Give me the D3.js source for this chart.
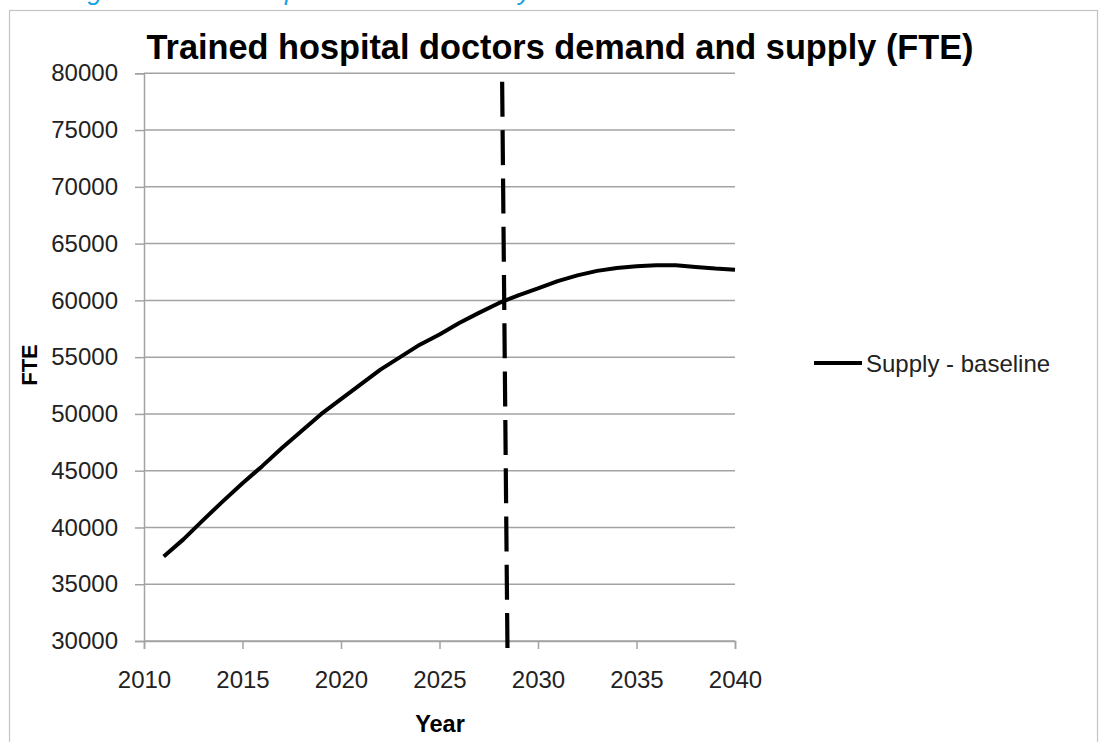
<!DOCTYPE html>
<html>
<head>
<meta charset="utf-8">
<script src="https://cdn.jsdelivr.net/npm/d3@7"></script>
<style>
  html, body { margin: 0; padding: 0; background: #fff; }
  svg { display: block; font-family: "Liberation Sans", Arial, sans-serif; }
</style>
</head>
<body>
<svg id="chart" width="1099" height="742"></svg>
<script>
// ---- data ----
const chartTitle = "Trained hospital doctors demand and supply (FTE)";
const xAxisTitle = "Year";
const yAxisTitle = "FTE";
const seriesName = "Supply - baseline";
const years = [2011, 2012, 2013, 2014, 2015, 2016, 2017, 2018, 2019, 2020,
               2021, 2022, 2023, 2024, 2025, 2026, 2027, 2028, 2029, 2030,
               2031, 2032, 2033, 2034, 2035, 2036, 2037, 2038, 2039, 2040];
const supply = [37450, 38950, 40650, 42300, 43900, 45400, 47000, 48500, 50000, 51300,
                52600, 53900, 55000, 56100, 57000, 58000, 58900, 59750, 60450, 61050,
                61700, 62200, 62600, 62850, 63000, 63100, 63100, 62950, 62800, 62700];
const xTicks = [2010, 2015, 2020, 2025, 2030, 2035, 2040];
const yTicks = [30000, 35000, 40000, 45000, 50000, 55000, 60000, 65000, 70000, 75000, 80000];
// projection divider (slightly slanted dashed line in the source)
const dividerYears = [2028.18, 2028.45];
const dividerValues = [79250, 29300];
// caption fragments (cut off at the top edge in the source)
const captionParts = ["Figure 5 Trained", "hospital doctors", "by"];

// ---- layout ----
const svg = d3.select("#chart");
const pLeft = 144, pRight = 735, pTop = 73.3, pBottom = 641;
const x = d3.scaleLinear().domain([2010, 2040]).range([pLeft, pRight]);
const y = d3.scaleLinear().domain([30000, 80000]).range([pBottom, pTop]);
const grid = "#a3a3a3";
const font = "24px";

// cut-off blue caption above the frame
const capX = [66, 243, 504];
const cap = svg.append("text").attr("y", 0)
  .attr("font-size", "26px").attr("font-style", "italic").attr("fill", "#12a3e3");
cap.selectAll("tspan").data(captionParts).join("tspan")
  .attr("x", (d, i) => capX[i]).text(d => d);

// frame
svg.append("rect").attr("x", 9.5).attr("y", 10.5).attr("width", 1088).attr("height", 800)
  .attr("fill", "none").attr("stroke", "#c4c4c4").attr("stroke-width", 1.2);

// gridlines
svg.append("g").selectAll("line").data(yTicks).join("line")
  .attr("x1", pLeft).attr("x2", pRight)
  .attr("y1", d => y(d)).attr("y2", d => y(d))
  .attr("stroke", grid).attr("stroke-width", 1.5);

// y axis
const yAxis = svg.append("g").attr("transform", `translate(${pLeft},0)`)
  .call(d3.axisLeft(y).tickValues(yTicks).tickFormat(d3.format("d")).tickSize(9).tickPadding(17));
yAxis.select(".domain").attr("stroke", grid).attr("stroke-width", 1.5);
yAxis.selectAll(".tick line").attr("stroke", grid).attr("stroke-width", 1.5);
yAxis.selectAll("text").attr("font-size", font).attr("fill", "#222");

// x axis
const xAxis = svg.append("g").attr("transform", `translate(0,${pBottom})`)
  .call(d3.axisBottom(x).tickValues(xTicks).tickFormat(d3.format("d")).tickSize(8).tickPadding(22));
xAxis.select(".domain").attr("stroke", grid).attr("stroke-width", 1.5);
xAxis.selectAll(".tick line").attr("stroke", grid).attr("stroke-width", 1.5);
xAxis.selectAll("text").attr("font-size", font).attr("fill", "#222");

// dashed divider
const divider = dividerYears.map((d, i) => ({ year: d, value: dividerValues[i] }));
svg.append("path").datum(divider)
  .attr("d", d3.line().x(d => x(d.year)).y(d => y(d.value)))
  .attr("fill", "none").attr("stroke", "#000").attr("stroke-width", 4.2)
  .attr("stroke-dasharray", "35,13.3");

// supply line
const pts = years.map((d, i) => ({ year: d, value: supply[i] }));
svg.append("path").datum(pts)
  .attr("d", d3.line().x(d => x(d.year)).y(d => y(d.value)))
  .attr("fill", "none").attr("stroke", "#000").attr("stroke-width", 4)
  .attr("stroke-linejoin", "round");

// title
svg.append("text").attr("x", 560).attr("y", 59).attr("text-anchor", "middle")
  .attr("font-size", "34.3px").attr("font-weight", "bold").attr("fill", "#000")
  .text(chartTitle);

// axis titles
svg.append("text").attr("x", 440).attr("y", 732).attr("text-anchor", "middle")
  .attr("font-size", "23.5px").attr("font-weight", "bold").attr("fill", "#000")
  .text(xAxisTitle);
svg.append("text").attr("transform", "translate(37,365) rotate(-90)").attr("text-anchor", "middle")
  .attr("font-size", "22px").attr("font-weight", "bold").attr("fill", "#000")
  .text(yAxisTitle);

// legend
svg.append("line").attr("x1", 814).attr("x2", 862).attr("y1", 363).attr("y2", 363)
  .attr("stroke", "#000").attr("stroke-width", 4);
svg.append("text").attr("x", 866).attr("y", 371.5)
  .attr("font-size", font).attr("fill", "#222").text(seriesName);
</script>
</body>
</html>
